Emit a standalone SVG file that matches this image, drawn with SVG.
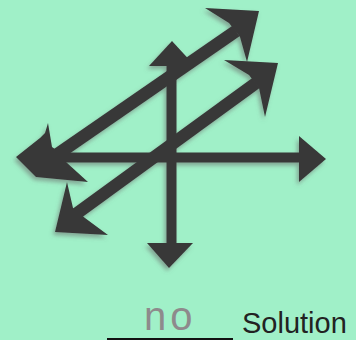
<svg xmlns="http://www.w3.org/2000/svg" width="356" height="340" viewBox="0 0 356 340">
<defs>
<filter id="sh" x="-10%" y="-10%" width="120%" height="120%">
<feDropShadow dx="-2" dy="3" stdDeviation="2" flood-color="#6a6a6a" flood-opacity="0.55"/>
</filter>
</defs>
<style>
.s{stroke:#383838;fill:none;stroke-linecap:butt}
.h{fill:#383838}
.lbl{font-family:"Liberation Sans",Arial,sans-serif;font-size:29px;fill:#222}
.hand{font-family:"Liberation Sans",Arial,sans-serif;font-size:40px;fill:#8e8a8c;letter-spacing:4px}
</style>
<rect width="356" height="340" fill="#a0f0c8"/>
<g id="connectors" filter="url(#sh)">
<g id="vertical">
<line class="s" x1="171.5" y1="60" x2="171.5" y2="248" stroke-width="10"/>
<polygon class="h" points="172,41 195,66 149,66"/>
<polygon class="h" points="147,243 193,243 169,268"/>
</g>
<g id="horizontal">
<line class="s" x1="58" y1="157.5" x2="304" y2="157.5" stroke-width="10"/>
<polygon class="h" points="299,136 326,159 299,182"/>
<polygon class="h" points="16,157 40,138 45,133 48,123 52,147 62,154 66,162 88,182 36,177"/>
</g>
<g id="diag-upper">
<line class="s" x1="52" y1="158" x2="236" y2="31" stroke-width="12.5"/>
<polygon class="h" points="259,11 247,62 240,37 229,23 205,8"/>
</g>
<g id="diag-lower">
<line class="s" x1="76" y1="214" x2="256" y2="83" stroke-width="12.5"/>
<polygon class="h" points="278,63 265,117 259,88 249,75 224,60"/>
<polygon class="h" points="55,232 67,182 73,208 85,218 108,235"/>
</g>
</g>
<g id="answer">
<text class="hand" x="144" y="330">no</text>
<line x1="107" y1="339" x2="233" y2="339" stroke="#111" stroke-width="2"/>
<text class="lbl" x="242" y="333">Solution</text>
</g>
</svg>
